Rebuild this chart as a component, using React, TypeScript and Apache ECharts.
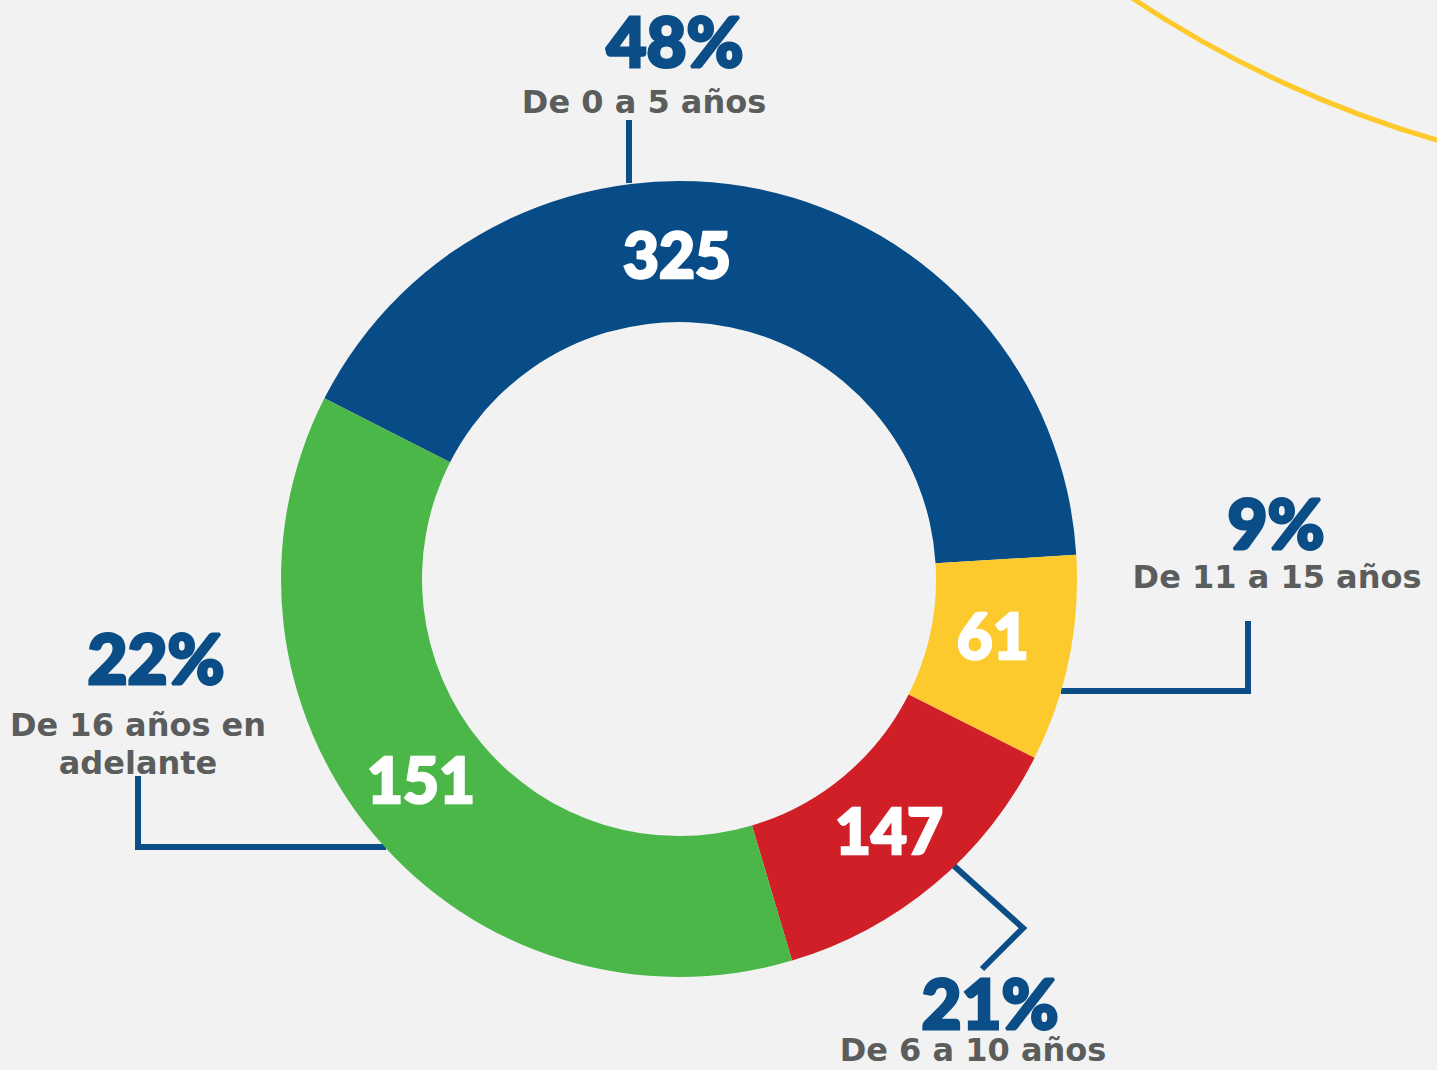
import React, { useEffect, useRef } from "react";
import * as echarts from "echarts";

// Data
const categories = ["De 0 a 5 años", "De 11 a 15 años", "De 6 a 10 años", "De 16 años en\nadelante"];
const counts = [325, 61, 147, 151];
const percentLabels = ["48%", "9%", "21%", "22%"];
// slice sizes as drawn in the picture (degrees of arc)
const arcDegrees = [149.5, 30.2, 46.8, 133.5];
const sliceColors = ["#074c86", "#fdca2d", "#d11f28", "#4bb748"];

const CX = 679;
const CY = 579;
const R0 = 257;
const R1 = 398;
const BLUE = "#0a4d87";
const GREY = "#5b5c5c";

// annotation layout (label anchors and leader lines)
const pctPos = [
  [675, 40],
  [1276, 522],
  [990, 1002],
  [156, 657],
];
const catPos = [
  [644, 102],
  [1277, 577],
  [973, 1050],
  [138, 744],
];
const leaders = [
  [[629, 120], [629, 183]],
  [[1061, 691], [1248, 691], [1248, 621]],
  [[953, 865], [1023, 928], [982, 969]],
  [[386, 847], [138, 847], [138, 776]],
];

export default function App() {
  const ref = useRef<HTMLDivElement>(null);
  useEffect(() => {
    document.body.style.margin = "0";
    if (!ref.current) return;
    const chart = echarts.init(ref.current, null, { renderer: "svg" });
    const rMid = (R0 + R1) / 2;
    const graphic: any[] = [];
    graphic.push({
      type: "bezierCurve",
      shape: { x1: 1132, y1: -2, cpx1: 1230, cpy1: 64, cpx2: 1338, cpy2: 112, x2: 1440, y2: 141 },
      style: { stroke: "#fec92a", lineWidth: 5, fill: null },
      silent: true,
    });
    leaders.forEach((pts) => {
      graphic.push({
        type: "polyline",
        shape: { points: pts },
        style: { stroke: BLUE, lineWidth: 6, fill: null, lineJoin: "miter" },
        silent: true,
      });
    });
    percentLabels.forEach((t, i) => {
      graphic.push({
        type: "text",
        x: pctPos[i][0],
        y: pctPos[i][1],
        style: {
          text: t,
          fill: BLUE,
          stroke: BLUE,
          lineWidth: 3,
          fontSize: 69,
          fontWeight: 900,
          fontFamily: "Lato",
          lineHeight: 54,
          align: "center",
          verticalAlign: "middle",
        },
        silent: true,
      });
      graphic.push({
        type: "text",
        x: catPos[i][0],
        y: catPos[i][1],
        style: {
          text: categories[i],
          fill: GREY,
          fontSize: 32,
          fontWeight: "bold",
          fontFamily: "DejaVu Sans",
          lineHeight: i === 3 ? 38 : 32,
          align: "center",
          verticalAlign: "middle",
        },
        silent: true,
      });
    });

    const labelShift = [
      [0, 0],
      [-10, -10],
      [-2, -3],
      [-4, -11],
    ];

    chart.setOption({
      animation: false,
      backgroundColor: "#f1f2f1",
      series: [
        {
          type: "pie",
          center: [CX, CY],
          radius: [R0, R1],
          startAngle: 153,
          clockwise: true,
          silent: true,
          avoidLabelOverlap: false,
          data: arcDegrees.map((v, i) => ({
            value: v,
            name: categories[i],
            itemStyle: { color: sliceColors[i] },
          })),
          label: {
            show: true,
            position: "inside",
            rotate: 0,
            formatter: (p: any) => String(counts[p.dataIndex]),
            color: "#ffffff",
            textBorderColor: "#ffffff",
            textBorderWidth: 2.5,
            fontSize: 62,
            fontWeight: 900,
            fontFamily: "Lato",
          },
          labelLine: { show: false },
          labelLayout: (p: any) =>
            p.dataIndex === 0
              ? { x: CX - 2, y: CY - rMid + 2, align: "center", verticalAlign: "middle" }
              : { dx: labelShift[p.dataIndex][0], dy: labelShift[p.dataIndex][1] },
          emphasis: { disabled: true },
        },
      ],
      graphic,
    });
    return () => chart.dispose();
  }, []);
  return <div ref={ref} style={{ width: 1437, height: 1070 }} />;
}
